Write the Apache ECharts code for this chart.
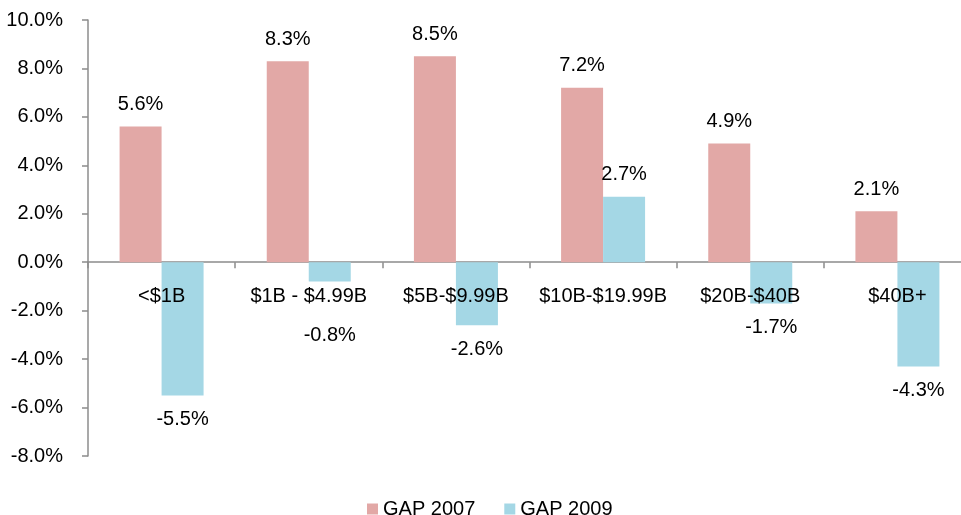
<!DOCTYPE html>
<html>
<head>
<meta charset="utf-8">
<script src="https://cdn.jsdelivr.net/npm/echarts@6/dist/echarts.min.js"></script>
<style>html,body{margin:0;padding:0;background:#fff;}#c{width:961px;height:515px;}</style>
</head>
<body>
<div id="c"></div>
<script>
var categories = ['<$1B', '$1B - $4.99B', '$5B-$9.99B', '$10B-$19.99B', '$20B-$40B', '$40B+'];
var gap2007 = [5.6, 8.3, 8.5, 7.2, 4.9, 2.1];
var gap2009 = [-5.5, -0.8, -2.6, 2.7, -1.7, -4.3];
var yTicks = { min: -8, max: 10, interval: 2 };

var font = 'Liberation Sans, Arial, sans-serif';
var FS = 20;
var chart = echarts.init(document.getElementById('c'));

var data2009 = gap2009.map(function (v, i) {
  var lbl = { position: v >= 0 ? 'top' : 'bottom', distance: v >= 0 ? 12 : 14 };
  if (i === 1) lbl.distance = 44;
  return { value: v, label: lbl };
});

var pct = function (v) { return v.toFixed(1) + '%'; };

chart.setOption({
  animation: false,
  textStyle: { fontFamily: font },
  grid: { left: 88, top: 20, bottom: 59, width: 883, outerBoundsMode: 'none', containLabel: false },
  legend: {
    top: 494, left: 362,
    itemWidth: 11, itemHeight: 11, itemGap: 29,
    icon: 'rect',
    textStyle: { fontSize: FS, color: '#000', fontFamily: font },
    data: ['GAP 2007', 'GAP 2009']
  },
  xAxis: [
    {
      type: 'category', data: categories,
      axisLine: { lineStyle: { color: '#8c8c8c', width: 1.5 }, onZero: true },
      axisTick: { show: true, length: 6, lineStyle: { color: '#8c8c8c', width: 1.5 } },
      axisLabel: { show: false },
      splitLine: { show: false }
    },
    {
      type: 'category', data: categories, position: 'bottom', offset: -194, z: 10,
      axisLine: { show: false, onZero: false },
      axisTick: { show: false },
      axisLabel: { show: true, fontSize: FS, color: '#000', margin: 24, fontFamily: font, interval: 0 },
      splitLine: { show: false }
    }
  ],
  yAxis: {
    type: 'value', min: yTicks.min, max: yTicks.max, interval: yTicks.interval,
    axisLine: { show: true, lineStyle: { color: '#8c8c8c', width: 1.5 } },
    axisTick: { show: true, length: 6, lineStyle: { color: '#8c8c8c', width: 1.5 } },
    axisLabel: { fontSize: FS, color: '#000', margin: 25, fontFamily: font, formatter: pct },
    splitLine: { show: false }
  },
  series: [
    {
      name: 'GAP 2007', type: 'bar', data: gap2007, xAxisIndex: 0,
      barWidth: 42, barGap: '0%',
      itemStyle: { color: '#e2a8a6' },
      label: { show: true, position: 'top', distance: 12, fontSize: FS, color: '#000', fontFamily: font,
        formatter: function (p) { return pct(p.value); } }
    },
    {
      name: 'GAP 2009', type: 'bar', data: data2009, xAxisIndex: 0,
      barWidth: 42, barGap: '0%',
      itemStyle: { color: '#a4d7e5' },
      label: { show: true, fontSize: FS, color: '#000', fontFamily: font,
        formatter: function (p) { return pct(p.value); } }
    }
  ]
});
</script>
</body>
</html>
